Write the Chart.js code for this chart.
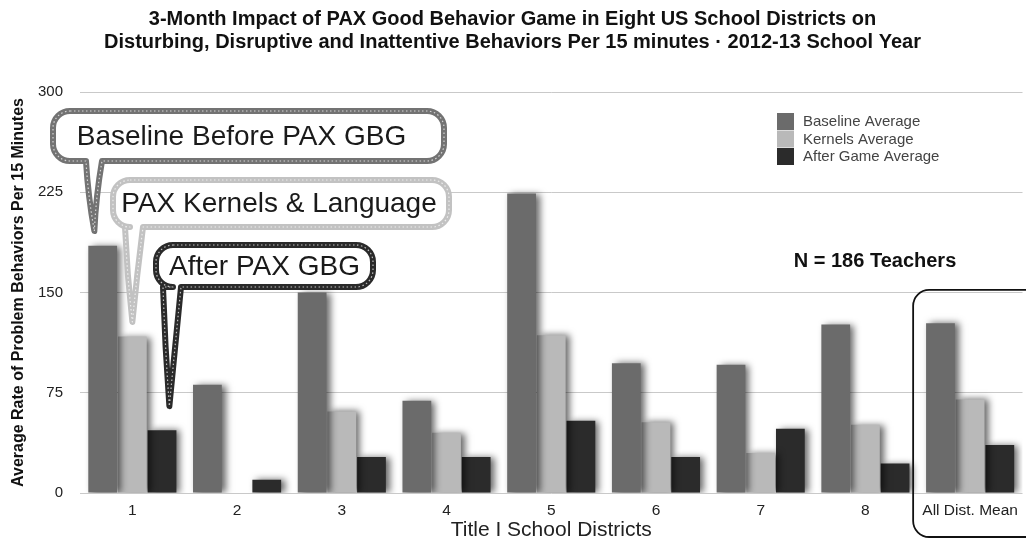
<!DOCTYPE html>
<html>
<head>
<meta charset="utf-8">
<script src="https://cdn.jsdelivr.net/npm/chart.js@4"></script>
<style>
  html, body { margin: 0; padding: 0; background: #fff; }
  #wrap { width: 1026px; height: 539px; }
</style>
</head>
<body>
<div id="wrap"><canvas id="c" width="1026" height="539"></canvas></div>
<script>
// chart data
const districts = ['1', '2', '3', '4', '5', '6', '7', '8', 'All Dist. Mean'];
const baselineAvg = [185, 81, 150, 69, 224, 97, 96, 126, 127];
const kernelsAvg = [117, 0, 61, 45, 118, 53, 30, 51, 70];
const afterGameAvg = [47, 10, 27, 27, 54, 27, 48, 22, 36];
const yTicks = [0, 75, 150, 225, 300];

const seriesNames = ['Baseline Average', 'Kernels Average', 'After Game Average'];
const seriesColors = ['#6b6b6b', '#b9b9b9', '#2b2b2b'];

const FONT = "'Liberation Sans', Arial, Helvetica, sans-serif";

// speech bubbles over district 1: tip at (category offset px, value)
const callouts = [
  { text: 'Baseline Before PAX GBG', color: '#737373', box: [53, 111, 444, 161], tail: [86, 102], tipDx: -38, tipVal: 196, textDx: -7 },
  { text: 'PAX Kernels & Language', color: '#c2c2c2', box: [113, 180, 449, 227], tail: [125, 143], tipDx: 0, tipVal: 128, textDx: -2 },
  { text: 'After PAX GBG', color: '#2a2a2a', box: [156, 245, 373, 287], tail: [163, 181], tipDx: 37, tipVal: 65, textDx: 0 }
];

function bubblePath(ctx, c, tipX, tipY) {
  const [x1, y1, x2, y2] = c.box;
  const r = 17;
  ctx.beginPath();
  ctx.moveTo(x1 + r, y1);
  ctx.lineTo(x2 - r, y1);
  ctx.arcTo(x2, y1, x2, y1 + r, r);
  ctx.lineTo(x2, y2 - r);
  ctx.arcTo(x2, y2, x2 - r, y2, r);
  ctx.lineTo(c.tail[1], y2);
  ctx.quadraticCurveTo(c.tail[1] - 6, (y2 + tipY) / 2, tipX, tipY);
  ctx.quadraticCurveTo(c.tail[0] + 2, (y2 + tipY) / 2, c.tail[0], y2);
  ctx.lineTo(x1 + r, y2);
  ctx.arcTo(x1, y2, x1, y2 - r, r);
  ctx.lineTo(x1, y1 + r);
  ctx.arcTo(x1, y1, x1 + r, y1, r);
  ctx.closePath();
}

const shadowPlugin = {
  id: 'barShadow',
  beforeDatasetsDraw(chart) {
    const ctx = chart.ctx;
    ctx.save();
    ctx.shadowColor = 'rgba(0,0,0,0.6)';
    ctx.shadowBlur = 7;
    ctx.shadowOffsetX = 4;
    ctx.shadowOffsetY = 0;
  },
  afterDatasetsDraw(chart) {
    chart.ctx.restore();
  }
};

const overlayPlugin = {
  id: 'overlay',
  afterDraw(chart) {
    const ctx = chart.ctx;
    const xs = chart.scales.x, ys = chart.scales.y;

    // legend
    ctx.save();
    ctx.font = '15px ' + FONT;
    ctx.textBaseline = 'middle';
    seriesNames.forEach((name, i) => {
      const top = 113 + i * 17.5;
      ctx.fillStyle = seriesColors[i];
      ctx.fillRect(777, top, 17, 17);
      ctx.fillStyle = '#444';
      ctx.fillText(name, 803, top + 9);
    });

    // N label
    ctx.font = 'bold 20px ' + FONT;
    ctx.fillStyle = '#111';
    ctx.textAlign = 'center';
    ctx.fillText('N = 186 Teachers', 875, 261);

    // rounded frame around mean group
    const fx = xs.getPixelForValue(8) - 57;
    const fy = ys.getPixelForValue(152);
    ctx.beginPath();
    ctx.roundRect(fx, fy, 130, 539 - fy - 2, 16);
    ctx.lineWidth = 1.8;
    ctx.strokeStyle = '#111';
    ctx.stroke();

    // callouts
    callouts.forEach(c => {
      const tipX = xs.getPixelForValue(0) + c.tipDx;
      const tipY = ys.getPixelForValue(c.tipVal);
      bubblePath(ctx, c, tipX, tipY);
      ctx.fillStyle = '#fff';
      ctx.fill();
      ctx.lineJoin = 'round';
      ctx.lineWidth = 6;
      ctx.strokeStyle = c.color;
      ctx.setLineDash([]);
      ctx.stroke();
      ctx.lineWidth = 1.2;
      ctx.strokeStyle = 'rgba(255,255,255,0.7)';
      ctx.setLineDash([1.5, 2.5]);
      ctx.stroke();
      ctx.setLineDash([]);
      ctx.fillStyle = '#1a1a1a';
      ctx.font = '28px ' + FONT;
      ctx.textAlign = 'center';
      ctx.textBaseline = 'middle';
      ctx.fillText(c.text, (c.box[0] + c.box[2]) / 2 + c.textDx, (c.box[1] + c.box[3]) / 2 + 1);
    });
    ctx.restore();
  }
};

new Chart(document.getElementById('c'), {
  type: 'bar',
  data: {
    labels: districts,
    datasets: [
      { label: seriesNames[0], data: baselineAvg, backgroundColor: seriesColors[0] },
      { label: seriesNames[1], data: kernelsAvg, backgroundColor: seriesColors[1] },
      { label: seriesNames[2], data: afterGameAvg, backgroundColor: seriesColors[2] }
    ]
  },
  options: {
    responsive: false,
    animation: false,
    layout: { padding: { left: 0, right: 1, top: 0, bottom: 0 } },
    datasets: { bar: { categoryPercentage: 0.85, barPercentage: 0.97 } },
    plugins: {
      legend: { display: false },
      tooltip: { enabled: false },
      title: {
        display: true,
        text: [
          '3-Month Impact of PAX Good Behavior Game in Eight US School Districts on',
          'Disturbing, Disruptive and Inattentive Behaviors Per 15 minutes \u00b7 2012-13 School Year'
        ],
        color: '#111',
        font: { family: FONT, size: 20, weight: 'bold', lineHeight: 1.15 },
        padding: { top: 8, bottom: 38 }
      }
    },
    scales: {
      x: {
        grid: { display: false, drawTicks: false },
        border: { display: false },
        ticks: { color: '#222', font: { family: FONT, size: 15.5 }, padding: 8, maxRotation: 0 },
        title: {
          display: true, text: 'Title I School Districts', color: '#222',
          font: { family: FONT, size: 21, lineHeight: 0.8 }, padding: { top: 0, bottom: 0 }
        },
        afterFit(s) { s.height = 46; }
      },
      y: {
        min: 0, max: 300,
        afterBuildTicks(s) { s.ticks = yTicks.map(v => ({ value: v })); },
        grid: { color: '#c9c9c9', lineWidth: 1, drawTicks: false },
        border: { display: false },
        ticks: { color: '#222', font: { family: FONT, size: 15 }, padding: 17 },
        title: {
          display: true, text: 'Average Rate of Problem Behaviors Per 15 Minutes', color: '#111',
          font: { family: FONT, size: 16, weight: 'bold' }, padding: { top: 9, bottom: 0 }
        },
        afterFit(s) { s.width = 80; }
      }
    }
  },
  plugins: [shadowPlugin, overlayPlugin]
});
</script>
</body>
</html>
